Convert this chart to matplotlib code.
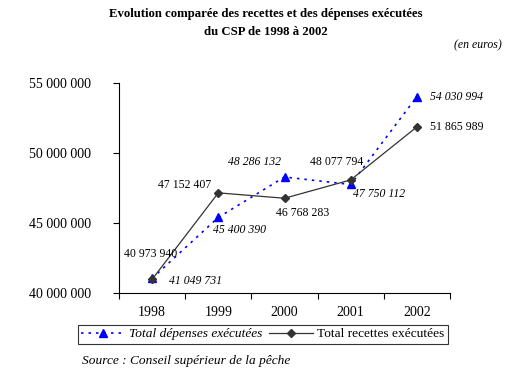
import matplotlib
matplotlib.use('Agg')
import matplotlib.pyplot as plt
from matplotlib.ticker import FuncFormatter

plt.rcParams['font.family'] = 'Liberation Serif'

years = ['1998', '1999', '2000', '2001', '2002']
depenses = [41049731, 45400390, 48286132, 47750112, 54030994]
recettes = [40973940, 47152407, 46768283, 48077794, 51865989]

# label offsets in pixels (dx, dy) relative to point
dep_off = [(43, -3), (21, -13), (-30, 15), (28, -10), (13, 0)]
rec_off = [(-1, 25), (-34, 8), (18, -15), (-14, 18), (13, 0)]
dep_ha = ['center', 'center', 'center', 'center', 'left']
rec_ha = ['center', 'center', 'center', 'center', 'left']

def fmt(v):
    return '{:,}'.format(int(v)).replace(',', ' ')

fig = plt.figure(figsize=(5.18, 3.75), dpi=100)
ax = fig.add_axes([119/518, 82/375, 331/518, 210/375])

x = range(len(years))
ax.plot(x, depenses, color='#0000ff', linestyle=(0, (1.5, 3)), linewidth=1.2,
        marker='^', markersize=6, label='Total dépenses exécutées')
ax.plot(x, recettes, color='#333333', linestyle='-', linewidth=0.9,
        marker='D', markersize=4, label='Total recettes exécutées')

for i in x:
    ax.annotate(fmt(depenses[i]), (i, depenses[i]), xytext=(dep_off[i][0]*0.72, dep_off[i][1]*0.72),
                textcoords='offset points', ha=dep_ha[i], va='center', fontsize=8.5, style='italic')
    ax.annotate(fmt(recettes[i]), (i, recettes[i]), xytext=(rec_off[i][0]*0.72, rec_off[i][1]*0.72),
                textcoords='offset points', ha=rec_ha[i], va='center', fontsize=8.5)

ax.set_xlim(-0.5, 4.5)
ax.set_ylim(40000000, 55000000)
ax.set_yticks([40000000, 45000000, 50000000, 55000000])
ax.yaxis.set_major_formatter(FuncFormatter(lambda v, p: fmt(v)))
ax.set_xticks([i - 0.5 for i in range(6)])
ax.set_xticklabels([])
ax.set_xticks(list(x), minor=True)
ax.set_xticklabels(years, minor=True, fontsize=10)
ax.tick_params(axis='x', which='minor', length=0, pad=9)
ax.tick_params(axis='both', which='major', direction='out', length=4, width=0.8, labelsize=10)
ax.tick_params(axis='y', pad=16)
for s in ['top', 'right']:
    ax.spines[s].set_visible(False)

fig.text(266/518, 1 - 14/375, 'Evolution comparée des recettes et des dépenses exécutées',
         ha='center', va='center', fontsize=9.2, fontweight='bold')
fig.text(266/518, 1 - 32/375, 'du CSP de 1998 à 2002',
         ha='center', va='center', fontsize=9.2, fontweight='bold')
fig.text(502/518, 1 - 45/375, '(en euros)', ha='right', va='center', fontsize=8.5, style='italic')

leg = fig.legend(loc='center', bbox_to_anchor=(263/518, 1 - 334/375), ncol=2,
                 frameon=True, fancybox=False, edgecolor='black', handlelength=3.3,
                 columnspacing=0.5, handletextpad=0.3, borderpad=0.25,
                 prop={'style': 'italic', 'size': 9.6})
leg.get_frame().set_linewidth(0.8)
leg.get_texts()[1].set_style('normal')
fig.text(82/518, 1 - 361/375, 'Source : Conseil supérieur de la pêche', ha='left', va='center',
         fontsize=9.6, style='italic')

fig.savefig('out.png', dpi=100)
